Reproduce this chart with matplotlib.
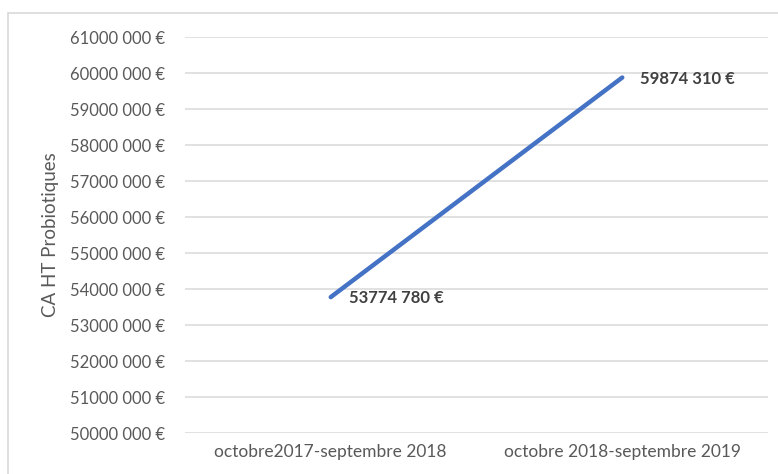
import matplotlib
matplotlib.use("Agg")
import matplotlib.pyplot as plt
from matplotlib.patches import Rectangle

periodes = ["octobre2017-septembre 2018", "octobre 2018-septembre 2019"]
ca_ht = [53774780, 59874310]
ticks = list(range(50000000, 61000001, 1000000))

def euro(v):
    s = f"{v:,}".split(",")
    return s[0] + "".join(s[1:2]) + " " + " ".join(s[2:]) + " €" if len(s) > 2 else f"{v} €"

plt.rcParams['font.family'] = ['Lato', 'DejaVu Sans']
fig = plt.figure(figsize=(7.78, 4.74), dpi=100)
fig.patches.append(Rectangle((8/778, -0.1), 1.2, 1 - 13/474 + 0.1, transform=fig.transFigure,
                             fill=False, edgecolor="#D9D9D9", linewidth=1.2))
ax = fig.add_axes([185/778, 1 - 433/474, (768 - 185)/778, (433 - 37)/474])

x = range(len(periodes))
ax.plot(x, ca_ht, color="#4472C4", linewidth=3.2, solid_capstyle="round")
for xi, v in zip(x, ca_ht):
    ax.annotate(euro(v), (xi, v), xytext=(13, -1), textcoords="offset points",
                ha="left", va="center", fontsize=12, fontweight="bold", color="#404040")

ax.set_xlim(-0.5, 1.5)
ax.set_ylim(50000000, 61000000)
ax.set_yticks(ticks)
ax.set_yticklabels([euro(t) for t in ticks], color="#595959", fontsize=12)
ax.set_xticks(list(x))
ax.set_xticklabels(periodes, color="#595959", fontsize=12.5)
ax.tick_params(length=0, pad=14)
ax.tick_params(axis="x", pad=8)
ax.grid(axis="y", color="#D9D9D9", linewidth=1.1)
ax.set_axisbelow(True)
for s in ax.spines.values():
    s.set_visible(False)
ax.set_ylabel("CA HT Probiotiques", color="#595959", fontsize=13.5, labelpad=8)

fig.savefig("out.png", dpi=100)
